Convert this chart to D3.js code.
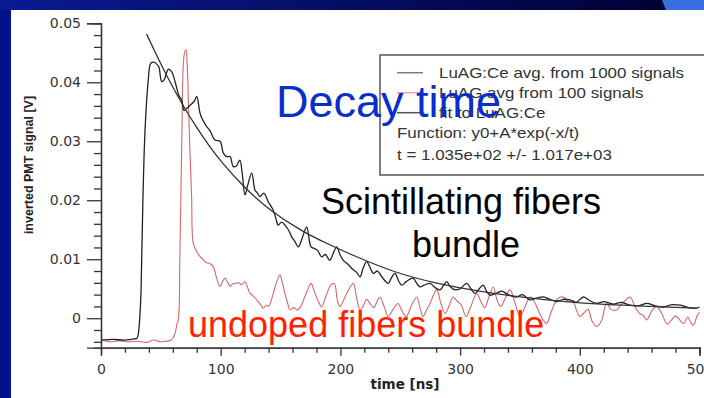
<!DOCTYPE html>
<html>
<head>
<meta charset="utf-8">
<script src="https://cdn.jsdelivr.net/npm/d3@7"></script>
<style>
  body { margin: 0; padding: 0; overflow: hidden; }
  svg { display: block; }
</style>
</head>
<body>
<script>
var w = 704;
var h = 398;

// tick values
var yMajorTicks = [0, 0.01, 0.02, 0.03, 0.04, 0.05];
var yMinorTicks = [-0.004, -0.002, 0.002, 0.004, 0.006, 0.008, 0.012, 0.014, 0.016, 0.018,
  0.022, 0.024, 0.026, 0.028, 0.032, 0.034, 0.036, 0.038, 0.042, 0.044, 0.046, 0.048];
var xMajorTicks = [0, 100, 200, 300, 400, 500];
var xMinorTicks = [20, 40, 60, 80, 120, 140, 160, 180, 220, 240, 260, 280,
  320, 340, 360, 380, 420, 440, 460, 480];

// LuAG:Ce avg. from 1000 signals (black)
var blackTime = [0, 10, 20, 28, 30, 31.2, 32.6, 33.5, 35, 36.8, 39.5, 41.5, 44, 47, 48.5, 50.7, 53, 56.2, 59, 62,
  65, 67.4, 69.5, 71.6, 75, 78, 80, 82.7, 85, 88.3, 91, 95.3, 99.5, 102.2, 105, 107.8, 110.5, 113, 116, 118,
  120.3, 122.5, 125.9, 128.7, 130.5, 132.8, 136, 139.8, 142, 143.9, 146, 148, 151, 154, 156.5, 159.3, 162, 164.8, 168, 171.8,
  175.5, 178.5, 181, 184.3, 187.5, 191, 194, 196.9, 199.6, 202.5, 206, 210.8, 213.5, 216.4, 219, 222, 225, 227.5, 231, 234,
  237, 240, 242.5, 245.6, 248.5, 251.2, 255, 258, 260.9, 263.5, 266.5, 270, 274.9, 279, 283.2, 286, 288.8, 292, 296, 300,
  305.5, 309, 312.4, 316, 319.4, 322, 325, 330, 335, 340, 347.2, 352, 358.4, 364, 369.5, 375, 380.7, 386, 391.8, 397,
  403, 408, 414, 420, 428, 435, 442, 449, 456, 463, 470, 477, 484, 491, 497.6, 500];
var blackSignal = [-0.0037, -0.0036, -0.0037, -0.0035, -0.0034, -0.0026, 0.0008, 0.005, 0.02, 0.0319, 0.0404, 0.0432, 0.0434, 0.043, 0.0425, 0.0401, 0.0405, 0.0422, 0.0418, 0.040,
  0.0378, 0.037, 0.0352, 0.0356, 0.0362, 0.0368, 0.0376, 0.0348, 0.0336, 0.0325, 0.0318, 0.0302, 0.0300, 0.028, 0.0274, 0.0274, 0.0257, 0.0258, 0.0268, 0.0245,
  0.0209, 0.0225, 0.0246, 0.0217, 0.0213, 0.0206, 0.0212, 0.0197, 0.019, 0.0183, 0.017, 0.0158, 0.0163, 0.0157, 0.015, 0.0138, 0.013, 0.0121, 0.0135, 0.0155,
  0.0121, 0.0118, 0.0115, 0.0104, 0.0108, 0.0098, 0.011, 0.0121, 0.0108, 0.0098, 0.0092, 0.0082, 0.0078, 0.007, 0.0085, 0.0096, 0.0085, 0.0076, 0.008, 0.0072,
  0.0064, 0.0059, 0.0068, 0.0076, 0.0064, 0.0056, 0.0062, 0.0066, 0.0068, 0.006, 0.0053, 0.0056, 0.0059, 0.0052, 0.0048, 0.0055, 0.0062, 0.0053, 0.0048, 0.005,
  0.0059, 0.005, 0.0042, 0.005, 0.0056, 0.0046, 0.0039, 0.0042, 0.0046, 0.004, 0.0036, 0.004, 0.0031, 0.0034, 0.0036, 0.0032, 0.0028, 0.0032, 0.0031, 0.0027,
  0.0036, 0.003, 0.0025, 0.0028, 0.0024, 0.0027, 0.0022, 0.0021, 0.0025, 0.0021, 0.0019, 0.0023, 0.0022, 0.0018, 0.0017, 0.0019];

// LuAG avg from 100 signals (red)
var redTime = [0, 8, 15, 22, 30, 38, 44, 50, 54, 57.6, 60, 61.8, 63.5, 64.6, 66, 67.5, 68.8, 70, 71, 72,
  72.9, 74, 75.7, 77.1, 80, 83, 85.5, 88, 90.5, 93.8, 96.6, 99.4, 101.5, 103.6, 105.8, 107.8, 110, 112, 115, 117.5,
  120.3, 122.5, 124.5, 127, 130, 133, 135.6, 138, 140, 143.9, 146.5, 149.4, 151.5, 153.6, 156, 157.9, 161, 164, 167, 170,
  173, 175.5, 177.5, 179.7, 182, 184.3, 187.5, 191, 193, 195, 197.5, 199.6, 203, 206, 210.8, 213.5, 216.4, 219, 222, 225,
  228, 230.5, 233, 236.5, 240, 244, 248, 251.5, 255, 259, 263.7, 266.5, 269, 272, 274.9, 278, 280.5, 284, 287.5, 291,
  294, 297, 301, 305, 309, 313.8, 317, 320.5, 324, 327.7, 331, 334, 338, 341.7, 346, 350, 354, 358.4, 362, 366,
  369, 372.3, 376, 380.7, 384, 387, 390, 394, 397, 400, 403, 407, 410, 414, 418, 422.4, 426, 430.8, 434, 438,
  442, 446, 450, 453, 456, 460, 464, 468, 473, 477, 480, 484, 487, 490, 493, 495, 498, 500];
var redSignal = [-0.0037, -0.004, -0.0038, -0.004, -0.0039, -0.0041, -0.0037, -0.004, -0.0039, -0.0038, -0.0034, -0.0026, -0.001, -0.0003, 0.012, 0.030, 0.0432, 0.0452, 0.0455, 0.043,
  0.0376, 0.030, 0.0206, 0.0127, 0.0113, 0.0104, 0.0099, 0.0094, 0.0093, 0.0087, 0.0068, 0.0054, 0.0062, 0.0068, 0.0061, 0.0054, 0.0058, 0.0059, 0.006, 0.0057,
  0.0062, 0.0052, 0.0042, 0.0038, 0.0031, 0.0024, 0.0017, 0.0022, 0.002, 0.0042, 0.006, 0.0073, 0.006, 0.0042, 0.0025, 0.0014, 0.0018, 0.0014, 0.002, 0.0035,
  0.005, 0.0059, 0.005, 0.0037, 0.0027, 0.0019, 0.0035, 0.0053, 0.0058, 0.0059, 0.003, 0.002, 0.0032, 0.0045, 0.0059, 0.0035, 0.0014, 0.002, 0.0032, 0.0024,
  0.0018, 0.0028, 0.0036, 0.002, 0.0003, 0.0015, 0.0025, 0.0012, 0.0003, 0.002, 0.0036, 0.0018, 0.0003, 0.0014, 0.0025, 0.004, 0.0048, 0.0025, 0.0008, 0.0022,
  0.0036, 0.003, 0.0022, 0.0003, 0.002, 0.0042, 0.003, 0.0018, 0.0035, 0.0053, 0.003, 0.002, 0.0035, 0.0048, 0.0025, 0.0003, 0.0018, 0.0036, 0.0028, 0.001,
  -0.0002, -0.0009, 0.001, 0.0031, 0.0036, 0.0035, 0.0028, 0.003, 0.0015, 0.0003, 0.0008, 0.0015, -0.0004, -0.0014, -0.0005, 0.0025, 0.0015, 0.0014, 0.0022, 0.003,
  0.0036, 0.002, 0.0008, 0.0005, -0.0003, 0.0012, 0.002, 0.001, -0.001, -0.0002, 0.0004, -0.0004, -0.0009, 0.0002, -0.0008, -0.0012, 0.0004, 0.001];

// fit to LuAG:Ce
var fitTime = [38, 45, 55, 68.8, 80, 90, 100, 118.9, 140, 166.2, 191.3, 210, 247, 280, 316.6, 350, 386, 420, 460, 497.6];
var fitSignal = [0.0482, 0.0452, 0.041, 0.0359, 0.0323, 0.0293, 0.0266, 0.0223, 0.0184, 0.0149, 0.0124, 0.0107, 0.0076, 0.0059, 0.0045, 0.0036, 0.0028, 0.0023, 0.002, 0.0017];

var legendLabels = ["LuAG:Ce avg. from 1000 signals", "LuAG avg from 100 signals", "fit to LuAG:Ce"];
var legendColors = ["#7a7a7a", "#f0a0a0", "#555555"];
var fitInfo = ["Function: y0+A*exp(-x/t)", "t = 1.035e+02 +/- 1.017e+03"];

function zipSeries(ts, vs) {
  return ts.map(function(t, i) { return { t: t, v: vs[i] }; });
}
var blackData = zipSeries(blackTime, blackSignal);
var redData = zipSeries(redTime, redSignal);
var fitData = zipSeries(fitTime, fitSignal);

var svg = d3.select("body").append("svg")
  .attr("width", w)
  .attr("height", h);

// slide background
var defs = svg.append("defs");
var grad = defs.append("linearGradient").attr("id", "topbar")
  .attr("x1", "0%").attr("x2", "100%").attr("y1", "0%").attr("y2", "0%");
grad.append("stop").attr("offset", "0%").attr("stop-color", "#0a1a92");
grad.append("stop").attr("offset", "100%").attr("stop-color", "#000030");

svg.append("rect").attr("width", w).attr("height", h).attr("fill", "#00128c");
svg.append("rect").attr("width", w).attr("height", 10).attr("fill", "url(#topbar)");
svg.append("polygon").attr("points", "662,0 704,0 704,10 666,10").attr("fill", "#3a6ee0");
svg.append("rect").attr("x", 11).attr("y", 10).attr("width", w - 11).attr("height", h - 10).attr("fill", "#ffffff");

// scales
var xScale = d3.scaleLinear().domain([0, 500]).range([101, 699.5]);
var yScale = d3.scaleLinear().domain([-0.005, 0.05]).range([347.7, 23.3]);

// axes
var yAxis = d3.axisLeft(yScale)
  .tickValues(yMajorTicks)
  .tickSize(14)
  .tickPadding(6)
  .tickFormat(function(d) { return d === 0 ? "0" : d3.format(".2f")(d); });
var yAxisMinor = d3.axisLeft(yScale).tickValues(yMinorTicks).tickSize(7).tickFormat("");
var xAxis = d3.axisBottom(xScale).tickValues(xMajorTicks).tickSize(8).tickPadding(8);
var xAxisMinor = d3.axisBottom(xScale).tickValues(xMinorTicks).tickSize(5).tickFormat("");

function styleAxis(g) {
  g.select(".domain").attr("stroke", "#333").attr("stroke-width", 1.3);
  g.selectAll(".tick line").attr("stroke", "#333").attr("stroke-width", 1.3);
  g.selectAll(".tick text").attr("fill", "#333")
    .style("font-family", "DejaVu Sans, sans-serif").style("font-size", "14px");
}

svg.append("g").attr("transform", "translate(101,0)").call(yAxisMinor).call(styleAxis);
svg.append("g").attr("transform", "translate(101,0)").call(yAxis).call(styleAxis);
svg.append("g").attr("transform", "translate(0,347.7)").call(xAxisMinor).call(styleAxis);
svg.append("g").attr("transform", "translate(0,347.7)").call(xAxis).call(styleAxis);

// axis titles
svg.append("text")
  .attr("transform", "translate(33,165) rotate(-90)")
  .attr("text-anchor", "middle")
  .attr("fill", "#222")
  .style("font-family", "Liberation Sans, Arial, sans-serif")
  .style("font-weight", "bold")
  .style("font-size", "12.5px")
  .text("inverted PMT signal [V]");
svg.append("text")
  .attr("x", 405).attr("y", 389)
  .attr("text-anchor", "middle")
  .attr("fill", "#222")
  .style("font-family", "DejaVu Sans, sans-serif")
  .style("font-weight", "bold")
  .style("font-size", "13.5px")
  .text("time [ns]");

// lines
var line = d3.line()
  .x(function(d) { return xScale(d.t); })
  .y(function(d) { return yScale(d.v); })
  .curve(d3.curveCatmullRom.alpha(0.5));

svg.append("path").datum(redData)
  .attr("fill", "none").attr("stroke", "#d06a6a").attr("stroke-width", 1.1)
  .attr("d", line);
svg.append("path").datum(blackData)
  .attr("fill", "none").attr("stroke", "#222").attr("stroke-width", 1.3)
  .attr("d", line);
svg.append("path").datum(fitData)
  .attr("fill", "none").attr("stroke", "#333").attr("stroke-width", 1.3)
  .attr("d", line.curve(d3.curveBasis));

// legend box (plot fonts are stretched horizontally in the source image)
var legend = svg.append("g");
legend.append("rect")
  .attr("x", 380).attr("y", 55).attr("width", 340).attr("height", 120)
  .attr("fill", "#fff").attr("stroke", "#555").attr("stroke-width", 1.5);

function legendText(x, y, s) {
  legend.append("text")
    .attr("transform", "translate(" + x + "," + y + ") scale(1.13,1)")
    .attr("fill", "#333")
    .style("font-family", "Liberation Sans, Arial, sans-serif")
    .style("font-size", "15px")
    .text(s);
}
legendLabels.forEach(function(lbl, i) {
  var yy = 72.7 + i * 20;
  legend.append("line")
    .attr("x1", 397).attr("x2", 423).attr("y1", yy).attr("y2", yy)
    .attr("stroke", legendColors[i]).attr("stroke-width", 1.5);
  legendText(439, yy + 5, lbl);
});
fitInfo.forEach(function(s, i) {
  legendText(397, 138 + i * 22, s);
});

// slide annotations
svg.append("text")
  .attr("x", 276).attr("y", 117)
  .attr("fill", "#0a2ecc")
  .style("font-family", "Liberation Sans, Arial, sans-serif")
  .style("font-size", "45px")
  .text("Decay time");
svg.append("text")
  .attr("x", 461).attr("y", 214)
  .attr("text-anchor", "middle")
  .attr("fill", "#000")
  .style("font-family", "Liberation Sans, Arial, sans-serif")
  .style("font-size", "36px")
  .text("Scintillating fibers");
svg.append("text")
  .attr("x", 466).attr("y", 257)
  .attr("text-anchor", "middle")
  .attr("fill", "#000")
  .style("font-family", "Liberation Sans, Arial, sans-serif")
  .style("font-size", "36px")
  .text("bundle");
svg.append("text")
  .attr("x", 188).attr("y", 337)
  .attr("fill", "#ff2200")
  .style("font-family", "Liberation Sans, Arial, sans-serif")
  .style("font-size", "36px")
  .text("undoped fibers bundle");
</script>
</body>
</html>
